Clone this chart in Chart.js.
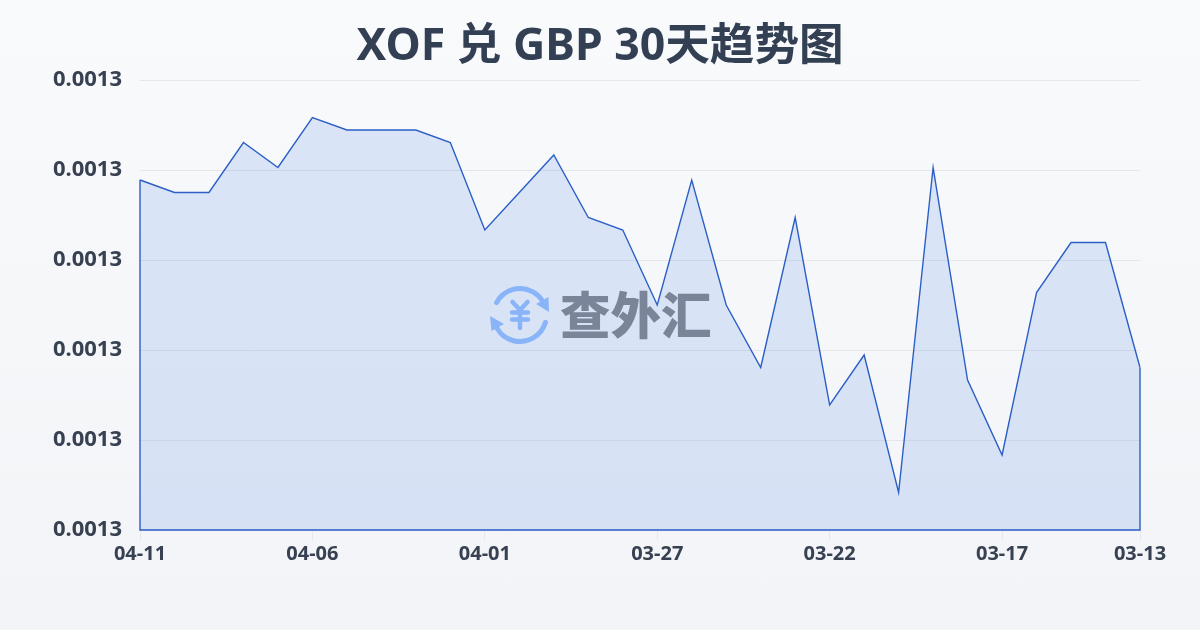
<!DOCTYPE html>
<html lang="zh">
<head>
<meta charset="utf-8">
<title>XOF 兑 GBP 30天趋势图</title>
<script src="https://cdn.jsdelivr.net/npm/chart.js@4/dist/chart.umd.min.js"></script>
<style>
  html, body { margin: 0; padding: 0; width: 1200px; height: 630px; overflow: hidden; }
  body { background: linear-gradient(180deg, #f9fafc, #f2f4f7); }
  #wrap { position: relative; width: 1200px; height: 630px; }
</style>
</head>
<body>
<div id="wrap"><canvas id="rateChart" width="1200" height="630"></canvas></div>
<script>
const titleText = 'XOF 兑 GBP 30天趋势图';
const dates = ['04-11', '04-10', '04-09', '04-08', '04-07', '04-06', '04-05', '04-04', '04-03', '04-02',
    '04-01', '03-31', '03-30', '03-29', '03-28', '03-27', '03-26', '03-25', '03-24', '03-23',
    '03-22', '03-21', '03-20', '03-19', '03-18', '03-17', '03-16', '03-15', '03-14', '03-13'];
const rates = [0.001298, 0.001297, 0.001297, 0.001301, 0.001299, 0.001303, 0.001302, 0.001302, 0.001302, 0.001301,
    0.001294, 0.001297, 0.001300, 0.001295, 0.001294, 0.001288, 0.001298, 0.001288, 0.001283, 0.001295,
    0.001280, 0.001284, 0.001273, 0.001299, 0.001282, 0.001276, 0.001289, 0.001293, 0.001293, 0.001283];
const xTickIndexes = [0, 5, 10, 15, 20, 25, 29];
const yTicks = [0.00127, 0.0012772, 0.0012844, 0.0012916, 0.0012988, 0.001306];

const font = '"Noto Sans", "Noto Sans CJK SC", sans-serif';
const textColor = '#374151';
const lineColor = '#2b5fc6';

// the line also runs down both sides and along the bottom of the area
const closeArea = {
    id: 'closeArea',
    afterDatasetsDraw(chart) {
        const { ctx, scales: { x, y } } = chart;
        const last = rates.length - 1;
        ctx.save();
        ctx.strokeStyle = lineColor;
        ctx.lineWidth = 1.4;
        ctx.beginPath();
        ctx.moveTo(x.getPixelForValue(0), y.getPixelForValue(rates[0]));
        ctx.lineTo(x.getPixelForValue(0), y.bottom);
        ctx.lineTo(x.getPixelForValue(last), y.bottom);
        ctx.lineTo(x.getPixelForValue(last), y.getPixelForValue(rates[last]));
        ctx.stroke();
        ctx.restore();
    }
};

// logo sits over the fill but under the line (filler runs first in this hook)
const watermark = {
    id: 'watermark',
    beforeDatasetDraw(chart) {
        const { ctx } = chart;
        const cx = 520, cy = 315, r = 26.5;
        const rad = deg => deg * Math.PI / 180;
        ctx.save();
        ctx.strokeStyle = '#8ab4f8';
        ctx.fillStyle = '#8ab4f8';
        ctx.lineWidth = 5;
        ctx.lineCap = 'round';
        ctx.beginPath();
        ctx.arc(cx, cy, r, rad(208), rad(332));
        ctx.stroke();
        ctx.beginPath();
        ctx.arc(cx, cy, r, rad(16), rad(151));
        ctx.stroke();
        ctx.beginPath();
        ctx.moveTo(548.5, 297);
        ctx.lineTo(549, 312);
        ctx.lineTo(536, 304);
        ctx.closePath();
        ctx.fill();
        ctx.beginPath();
        ctx.moveTo(491.5, 331);
        ctx.lineTo(490, 316);
        ctx.lineTo(504, 324);
        ctx.closePath();
        ctx.fill();
        // yen sign
        ctx.lineWidth = 4.5;
        ctx.beginPath();
        ctx.moveTo(512.5, 302);
        ctx.lineTo(520, 310);
        ctx.lineTo(527.5, 302);
        ctx.moveTo(512, 312.5);
        ctx.lineTo(528, 312.5);
        ctx.moveTo(512, 319.5);
        ctx.lineTo(528, 319.5);
        ctx.moveTo(520, 310);
        ctx.lineTo(520, 328);
        ctx.stroke();
        ctx.fillStyle = '#7a8599';
        ctx.font = '900 50.5px "Noto Sans CJK SC"';
        ctx.textAlign = 'left';
        ctx.textBaseline = 'middle';
        ctx.fillText('查外汇', 560, 315);
        ctx.restore();
    }
};

new Chart(document.getElementById('rateChart'), {
    type: 'line',
    data: {
        labels: dates,
        datasets: [{
            data: rates,
            borderColor: lineColor,
            borderWidth: 1.4,
            backgroundColor: 'rgba(42, 105, 225, 0.14)',
            fill: 'start',
            tension: 0,
            pointRadius: 0
        }]
    },
    plugins: [closeArea, watermark],
    options: {
        responsive: false,
        animation: false,
        plugins: {
            legend: { display: false },
            tooltip: { enabled: false },
            title: {
                display: true,
                text: titleText,
                color: '#333f52',
                font: { family: font, size: 44.6, weight: '700' },
                padding: { top: 20.5, bottom: 6 }
            }
        },
        scales: {
            x: {
                afterBuildTicks(scale) { scale.ticks = xTickIndexes.map(i => ({ value: i })); },
                afterFit(scale) { scale.height = 100; },
                offset: false,
                border: { display: false },
                grid: { drawOnChartArea: false, color: '#e5e7eb', tickLength: 10 },
                ticks: {
                    autoSkip: false,
                    maxRotation: 0,
                    color: textColor,
                    padding: 2,
                    font: { family: font, size: 20, weight: '700' },
                    callback(value) { return dates[value]; }
                }
            },
            y: {
                min: yTicks[0],
                max: yTicks[yTicks.length - 1],
                afterBuildTicks(scale) { scale.ticks = yTicks.map(v => ({ value: v })); },
                afterFit(scale) { scale.width = 140; },
                border: { display: false },
                grid: { color: '#e5e7eb', lineWidth: 1, drawTicks: false },
                ticks: {
                    color: textColor,
                    padding: 18,
                    font: { family: font, size: 22, weight: '700' },
                    callback(value) { return value.toFixed(4); }
                }
            },
            // empty axis, only keeps the right margin while the title stays centred
            spacer: {
                position: 'right',
                afterFit(scale) { scale.width = 60; },
                border: { display: false },
                grid: { display: false },
                ticks: { display: false }
            }
        }
    }
});
</script>
</body>
</html>
